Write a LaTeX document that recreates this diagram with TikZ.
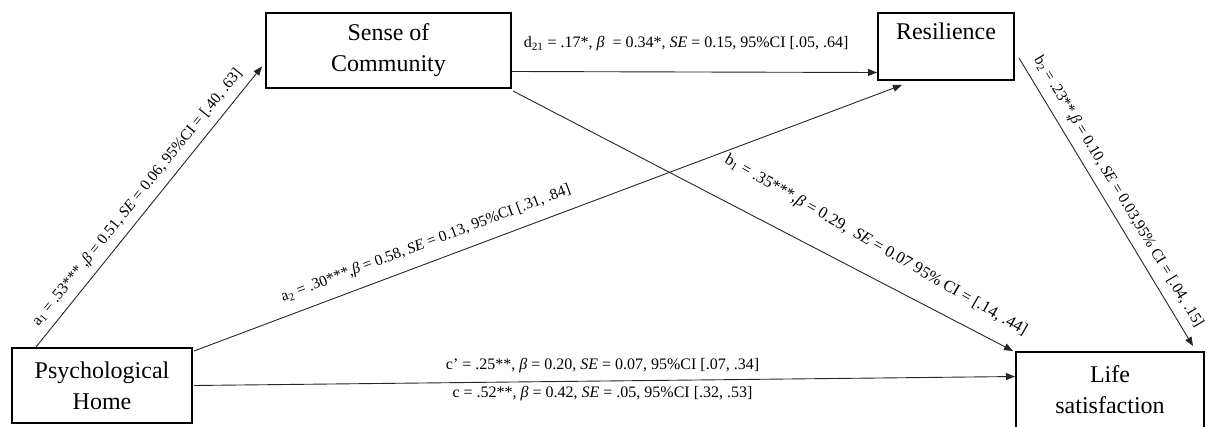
\documentclass[tikz,border=0pt]{standalone}
\usepackage{fontspec}
\setmainfont{Liberation Serif}
\usetikzlibrary{arrows.meta,calc}
\begin{document}
\begin{tikzpicture}[x=1pt,y=-1pt,
  box/.style={draw, line width=2pt, inner sep=0pt, align=center, font=\fontsize{24}{31}\selectfont},
  conn/.style={line width=0.9pt, draw=black!85, -{Triangle[length=9pt,width=7pt]}},
  lab/.style={font=\fontsize{15.5}{18}\selectfont, inner sep=0pt, anchor=base, text=black},
  hlab/.style={lab, font=\fontsize{16}{18}\selectfont},
  blab/.style={lab, font=\fontsize{16.5}{18}\selectfont}
]
\useasboundingbox (0,0) rectangle (1208,426);
\clip (0,0) rectangle (1208,426);
\node[box, minimum width=180pt, minimum height=75pt] (ph) at (102,385.5) {Psychological\\Home};
\node[box, minimum width=245pt, minimum height=75pt] (sc) at (388.5,50.5) {Sense of\\Community};
\node[box, minimum width=136pt, minimum height=67pt] (rs) at (946,46.5) {Resilience\\\mbox{}};
\node[box, minimum width=188pt, minimum height=76pt] (ls) at (1110,390) {Life\\satisfaction};

% a1
\draw[conn] ($(ph.north west)+(25,0)$) -- ($(sc.west)+(-3,16)$)
  node[lab, sloped, pos=0.5, yshift=11pt] {a\textsubscript{1} = .53*** ,\textit{β} = 0.51, \textit{SE} = 0.06, 95\%CI = [.40, .63]};
% a2
\draw[conn] ($(ph.north east)+(1,4)$) -- ($(rs.south west)+(25,4)$)
  node[lab, sloped, pos=0.337, yshift=15pt] {a\textsubscript{2} = .30***,\textit{β} = 0.58, \textit{SE} = 0.13, 95\%CI [.31, .84]};
% d21
\draw[conn] ($(sc.east)+(0,21)$) -- ($(rs.west)+(0,26)$)
  node[hlab, pos=0.477, yshift=24pt] {d\textsubscript{21} = .17*, \textit{β}\ \ = 0.34*, \textit{SE} = 0.15, 95\%CI [.05, .64]};
% b1
\draw[conn] ($(sc.south east)+(1,2)$) -- ($(ls.north west)+(-2,0)$)
  node[blab, sloped, rotate=-2.5, pos=1.0, anchor=base east, yshift=19pt, xshift=2pt] {b\textsubscript{1} = .35***,\textit{β} = 0.29,\ \ \textit{SE} = 0.07 95\% CI = [.14, .44]};
% b2
\draw[conn] ($(rs.east)+(4,11.5)$) -- ($(ls.north east)+(-12,-5)$)
  node[lab, sloped, pos=0.493, yshift=12pt] {b\textsubscript{2} = .23**,\textit{β} = 0.10, \textit{SE} = 0.03,95\% CI = [.04, .15]};
% c and c'
\draw[conn] ($(ph.east)+(1,0)$) -- ($(ls.west)+(0,-13.5)$)
  node[hlab, pos=0.4976, yshift=12pt] {c’ = .25**, \textit{β} = 0.20, \textit{SE} = 0.07, 95\%CI [.07, .34]}
  node[hlab, pos=0.4976, yshift=-16pt] {c = .52**, \textit{β} = 0.42, \textit{SE} = .05, 95\%CI [.32, .53]};
\end{tikzpicture}
\end{document}
